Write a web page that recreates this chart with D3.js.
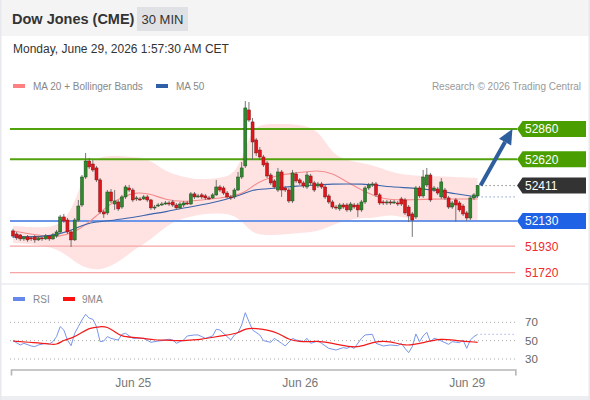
<!DOCTYPE html>
<html>
<head>
<meta charset="utf-8">
<style>
  body { margin: 0; background: #fff; }
  svg text { font-family: "Liberation Sans", Arial, sans-serif; }
</style>
</head>
<body>
<script src="https://d3js.org/d3.v7.min.js"></script>
<script>
// 30 min bars, Jun 24 07:30 -> Jun 29 01:30 CET
var open = [52051,52027,52019,51988,52004,51996,52004,51980,51996,51988,
  52011,51988,52011,52043,52162,52138,52043,51980,52138,52257,
  52479,52606,52582,52551,52456,52202,52194,52360,52265,52281,
  52241,52321,52392,52376,52305,52305,52305,52321,52297,52234,
  52249,52257,52265,52273,52281,52257,52234,52257,52273,52265,
  52345,52321,52337,52329,52313,52313,52337,52400,52392,52352,
  52321,52321,52376,52479,52567,53011,52916,52773,52693,52638,
  52590,52495,52448,52376,52519,52392,52376,52289,52503,52456,
  52432,52400,52487,52432,52408,52424,52400,52329,52281,52241,
  52226,52257,52257,52218,52257,52257,52218,52281,52392,52416,
  52424,52337,52281,52273,52281,52273,52273,52305,52297,52241,
  52186,52162,52392,52329,52416,52495,52376,52384,52321,52376,
  52313,52241,52297,52273,52249,52194,52154,52313,52329];
var high = [52067,52043,52027,52011,52019,52011,52019,52011,52011,52027,
  52019,52035,52059,52178,52186,52154,52059,52154,52297,52495,
  52670,52630,52614,52567,52471,52218,52376,52384,52376,52297,
  52337,52416,52416,52392,52329,52321,52337,52337,52305,52257,
  52273,52281,52289,52289,52297,52273,52281,52289,52289,52360,
  52360,52345,52352,52345,52329,52352,52456,52416,52408,52368,
  52337,52392,52519,52598,53082,53074,52947,52789,52717,52654,
  52606,52511,52463,52551,52535,52408,52392,52535,52519,52471,
  52448,52519,52503,52448,52440,52440,52416,52345,52297,52257,
  52273,52273,52273,52281,52273,52273,52297,52408,52432,52440,
  52440,52352,52297,52297,52297,52297,52289,52321,52313,52257,
  52202,52408,52408,52535,52551,52511,52408,52400,52471,52392,
  52329,52289,52313,52289,52265,52210,52329,52352,52416];
var low = [51996,51980,51972,51972,51964,51972,51956,51972,51972,51980,
  51972,51980,51996,52035,52115,52027,51924,51972,52123,52241,
  52463,52543,52519,52440,52186,52154,52178,52273,52218,52210,
  52226,52305,52360,52281,52289,52289,52297,52281,52218,52218,
  52241,52249,52257,52249,52241,52218,52226,52241,52257,52257,
  52305,52313,52305,52297,52297,52305,52329,52360,52337,52305,
  52297,52305,52368,52463,52551,52916,52614,52646,52614,52559,
  52471,52416,52384,52360,52321,52360,52273,52273,52432,52416,
  52392,52384,52416,52360,52392,52384,52305,52265,52226,52218,
  52210,52226,52202,52202,52226,52162,52202,52265,52376,52400,
  52321,52257,52257,52257,52257,52265,52249,52249,52178,52123,
  52004,52146,52313,52313,52400,52281,52360,52337,52305,52297,
  52226,52226,52123,52202,52170,52130,52138,52297,52313];
var close = [52011,51996,51988,52004,51980,51988,51980,51996,51988,52011,
  51988,52019,52043,52162,52130,52043,51980,52138,52249,52479,
  52606,52559,52535,52456,52202,52186,52360,52289,52289,52226,
  52321,52400,52376,52297,52313,52297,52321,52297,52234,52241,
  52257,52265,52273,52265,52257,52234,52265,52273,52265,52345,
  52321,52329,52321,52313,52305,52337,52400,52376,52352,52321,
  52313,52376,52479,52551,53027,52931,52757,52670,52638,52575,
  52487,52432,52400,52519,52376,52376,52289,52511,52448,52432,
  52408,52495,52432,52376,52424,52400,52321,52281,52241,52234,
  52257,52241,52218,52265,52241,52218,52281,52392,52416,52424,
  52337,52273,52273,52281,52273,52281,52265,52265,52194,52170,
  52138,52392,52329,52479,52495,52297,52392,52352,52440,52313,
  52241,52273,52257,52218,52186,52154,52313,52337,52411];

// moving averages / bands, read at these bar indexes
var maIdx   = [0,8,13,17,20,23,26,30,34,38,42,47,52,57,61,64,66,69,73,78,84,88,92,96,100,104,110,116,122,128];
var bbUpper = [52091,52075,52091,52257,52551,52630,52646,52646,52638,52614,52519,52479,52456,52471,52495,
  52693,52868,52900,52900,52900,52868,52654,52614,52590,52567,52519,52487,52487,52479,52471];
var bbLower = [51956,51940,51900,51805,51758,51742,51758,51821,51916,51980,52091,52154,52186,52194,52178,
  52099,52035,52019,52019,52035,52043,52099,52138,52154,52154,52186,52138,52123,52123,52123];
var ma20    = [52051,52011,52004,52043,52099,52170,52249,52321,52360,52345,52297,52281,52297,52313,52329,
  52360,52408,52456,52495,52511,52535,52511,52440,52376,52321,52297,52297,52305,52305,52305];
var ma50    = [52004,52004,52027,52067,52107,52123,52130,52146,52162,52186,52202,52234,52257,52289,52321,
  52352,52376,52384,52392,52408,52416,52424,52424,52424,52416,52400,52392,52376,52345,52321];

// RSI and its 9 period average
var rsiIdx = [0,2,3,5,6,7,9,10,11,12,13,14,15,16,17,18,19,20,21,22,23,24,25,26,27,28,29,30,31,33,34,36,38,40,41,43,44,45,
  47,48,50,51,52,53,55,56,57,59,60,61,62,63,64,65,66,68,69,71,72,74,75,77,78,79,80,81,82,84,85,87,89,91,92,93,94,96,97,99,
  100,102,104,106,107,108,109,110,111,112,113,114,115,116,117,119,120,121,123,124,125,126,127,128];
var rsi = [50,45.3,47.1,44.2,43.5,45.3,47.1,46.4,48.9,54.4,65.3,61.6,50.7,44.5,58,65.3,72.5,78.7,74.4,73.3,65.3,48.9,49.6,54.4,52.5,51.5,50.7,56.9,58,52.5,52.5,52.5,48.2,49.6,50,51.5,50.7,47.1,
  50.7,55.1,56.2,56.2,54.4,52.5,55.1,62.4,61.6,54.4,50.7,56.2,58.7,67.1,80.5,70.7,61.6,56.2,50,48.2,52.5,47.1,44.2,52.5,50.7,50,48.9,52.5,47.1,49.6,47.1,41.6,39.8,42.4,41.6,43.5,41.6,52.5,56.2,56.9,
  47.1,44.2,45.3,44.5,47.1,41.6,36.9,43.5,57.3,48.9,55.1,59.1,48.9,52.5,51.5,47.8,46,48.9,47.8,50.7,41.6,50.7,54.4,56.9];
var rsiMaIdx = [0,6,10,12,14,16,18,21,24,26,28,30,33,36,39,42,46,49,52,55,59,62,64,67,70,73,76,79,82,85,90,95,99,104,108,113,118,122,128];
var rsiMa = [49.6,47.8,46.4,45.3,50.7,52.5,56.2,64.2,65.3,65.3,59.8,54.4,53.6,52.5,50.7,50.7,49.6,50.7,51.5,53.6,56.2,58,63.5,63.5,61.6,58.7,50.7,48.9,48.9,49.6,45.3,41.6,48.9,50,43.5,47.8,52.5,50,48.2];
var rsiLevels = [70, 50, 30];

var resistances = [52860, 52620];
var pivotLevel = 52130;
var supports = [51930, 51720];
var targetPrice = 52860;
var lastPrice = 52411;

var dayIdx = [33, 79, 125];
var dayLabels = ["Jun 25", "Jun 26", "Jun 29"];

var W = 590, H = 400;
var svg = d3.select("body").append("svg").attr("width", W).attr("height", H);

// card frame
svg.append("rect").attr("width", W).attr("height", H).attr("fill", "#fff");
svg.append("rect").attr("width", W).attr("height", 36).attr("fill", "#f4f4f5");
svg.append("rect").attr("x", 0).attr("y", 283).attr("width", W).attr("height", 2).attr("fill", "#eef0f3");
svg.append("rect").attr("x", 0).attr("y", 396).attr("width", W).attr("height", 4).attr("fill", "#eceef1");
svg.append("rect").attr("x", 0).attr("y", 0).attr("width", 1.5).attr("height", H).attr("fill", "#e8e9ec");
svg.append("rect").attr("x", 588.5).attr("y", 0).attr("width", 1.5).attr("height", H).attr("fill", "#e8e9ec");

// header
svg.append("text").attr("x", 12).attr("y", 24).attr("font-size", 14.5).attr("font-weight", "bold")
  .attr("fill", "#333").text("Dow Jones (CME)");
svg.append("rect").attr("x", 137).attr("y", 7).attr("width", 51).attr("height", 24).attr("fill", "#dfe1e5");
svg.append("text").attr("x", 162.5).attr("y", 24).attr("font-size", 13).attr("text-anchor", "middle")
  .attr("fill", "#333").text("30 MIN");
svg.append("text").attr("x", 13).attr("y", 53).attr("font-size", 12).attr("fill", "#333")
  .text("Monday, June 29, 2026 1:57:30 AM CET");

// legend
svg.append("rect").attr("x", 13).attr("y", 84).attr("width", 12).attr("height", 4).attr("fill", "#ff8080");
svg.append("text").attr("x", 33).attr("y", 90).attr("font-size", 10).attr("fill", "#888").text("MA 20 + Bollinger Bands");
svg.append("rect").attr("x", 156).attr("y", 84).attr("width", 12).attr("height", 4).attr("fill", "#2f5fa6");
svg.append("text").attr("x", 176).attr("y", 90).attr("font-size", 10).attr("fill", "#888").text("MA 50");
svg.append("text").attr("x", 581).attr("y", 90).attr("font-size", 10).attr("fill", "#999")
  .attr("text-anchor", "end").text("Research \u00a9 2026 Trading Central");

var n = close.length;
var x = d3.scaleLinear().domain([0, n - 1]).range([13, 477.6]);
var y = d3.scaleLinear().domain([51640, 53130]).range([282.75, 94.97]);
var yR = d3.scaleLinear().domain([30, 70]).range([359, 322.3]);
var lineLeft = 10, lineRight = 517;

// bollinger band
var band = d3.area()
  .x(function (d, i) { return x(maIdx[i]); })
  .y0(function (d, i) { return y(bbLower[i]); })
  .y1(function (d) { return y(d); })
  .curve(d3.curveBasis);
svg.append("path").datum(bbUpper).attr("d", band).attr("fill", "#ffe3e3");

// level lines
resistances.forEach(function (v) {
  svg.append("line").attr("x1", lineLeft).attr("x2", lineRight).attr("y1", y(v)).attr("y2", y(v))
    .attr("stroke", "#52a20e").attr("stroke-width", 2);
});
svg.append("line").attr("x1", lineLeft).attr("x2", lineRight).attr("y1", y(pivotLevel)).attr("y2", y(pivotLevel))
  .attr("stroke", "#6e96e8").attr("stroke-width", 2);
supports.forEach(function (v) {
  svg.append("line").attr("x1", lineLeft).attr("x2", 515).attr("y1", y(v)).attr("y2", y(v))
    .attr("stroke", "#f5a5a5").attr("stroke-width", 1.3);
});

// moving averages
var maLine = function (vals) {
  return d3.line()
    .x(function (d, i) { return x(maIdx[i]); })
    .y(function (d) { return y(d); })
    .curve(d3.curveBasis)(vals);
};
svg.append("path").attr("d", maLine(ma20)).attr("fill", "none").attr("stroke", "#f48c8c").attr("stroke-width", 1.1);
svg.append("path").attr("d", maLine(ma50)).attr("fill", "none").attr("stroke", "#3c64aa").attr("stroke-width", 1.1);

// candles
var bars = d3.range(n).map(function (i) {
  return { i: i, o: open[i], h: high[i], l: low[i], c: close[i] };
});
var cg = svg.append("g");
cg.selectAll(".wick").data(bars).enter().append("line")
  .attr("x1", function (d) { return x(d.i); }).attr("x2", function (d) { return x(d.i); })
  .attr("y1", function (d) { return y(d.h); }).attr("y2", function (d) { return y(d.l); })
  .attr("stroke", "#666").attr("stroke-width", 0.9);
cg.selectAll(".body").data(bars).enter().append("rect")
  .attr("x", function (d) { return x(d.i) - 1.5; })
  .attr("width", 3)
  .attr("y", function (d) { return y(Math.max(d.o, d.c)); })
  .attr("height", function (d) { return Math.max(1, Math.abs(y(d.o) - y(d.c))); })
  .attr("fill", function (d) { return d.c >= d.o ? "#2f8a2f" : "#e3141c"; })
  .attr("stroke", function (d) { return d.c >= d.o ? "#1d4d1d" : "#7a1414"; })
  .attr("stroke-width", 0.5);

// dotted extensions
var lastX = x(n - 1);
svg.append("line").attr("x1", lastX + 4).attr("x2", 515).attr("y1", y(lastPrice)).attr("y2", y(lastPrice))
  .attr("stroke", "#555").attr("stroke-width", 1).attr("stroke-dasharray", "1,3");
svg.append("line").attr("x1", lastX + 4).attr("x2", 515).attr("y1", y(ma50[ma50.length - 1])).attr("y2", y(ma50[ma50.length - 1]))
  .attr("stroke", "#4c6fb0").attr("stroke-width", 1).attr("stroke-dasharray", "1,3");

// target arrow
var ax0 = lastX + 3, ay0 = y(lastPrice), ax1 = x(n - 1 + 9.6), ay1 = y(targetPrice);
var ang = Math.atan2(ay1 - ay0, ax1 - ax0);
var headLen = 15, headW = 7;
var bx = ax1 - headLen * Math.cos(ang), by = ay1 - headLen * Math.sin(ang);
svg.append("line").attr("x1", ax0).attr("y1", ay0).attr("x2", bx).attr("y2", by)
  .attr("stroke", "#2e5e9e").attr("stroke-width", 4);
svg.append("path").attr("fill", "#2e5e9e").attr("d",
  "M" + ax1 + "," + ay1 +
  "L" + (bx + headW * Math.sin(ang)) + "," + (by - headW * Math.cos(ang)) +
  "L" + (bx - headW * Math.sin(ang)) + "," + (by + headW * Math.cos(ang)) + "Z");

// price tags
var tags = [
  { v: resistances[0], fill: "#4a9e00" },
  { v: resistances[1], fill: "#4a9e00" },
  { v: lastPrice, fill: "#333333" },
  { v: pivotLevel, fill: "#1f62e6" }
];
tags.forEach(function (t) {
  var cy = y(t.v);
  svg.append("path").attr("fill", t.fill)
    .attr("d", "M517," + cy + "L522.5," + (cy - 8) + "L586," + (cy - 8) + "L586," + (cy + 8) + "L522.5," + (cy + 8) + "Z");
  svg.append("text").attr("x", 525).attr("y", cy + 4.3).attr("font-size", 12).attr("fill", "#fff")
    .text(d3.format("d")(t.v));
});
supports.forEach(function (v) {
  svg.append("text").attr("x", 525).attr("y", y(v) + 4.3).attr("font-size", 12).attr("fill", "#ee2b2b")
    .text(d3.format("d")(v));
});

// RSI panel
svg.append("rect").attr("x", 13).attr("y", 297).attr("width", 12).attr("height", 4).attr("fill", "#6688e8");
svg.append("text").attr("x", 33).attr("y", 303).attr("font-size", 10).attr("fill", "#888").text("RSI");
svg.append("rect").attr("x", 63).attr("y", 297).attr("width", 12).attr("height", 4).attr("fill", "#ff1010");
svg.append("text").attr("x", 82).attr("y", 303).attr("font-size", 10).attr("fill", "#888").text("9MA");

rsiLevels.forEach(function (v) {
  svg.append("line").attr("x1", lineLeft).attr("x2", 516).attr("y1", yR(v)).attr("y2", yR(v))
    .attr("stroke", "#aaa").attr("stroke-width", 1).attr("stroke-dasharray", "1,3");
  svg.append("text").attr("x", 525).attr("y", yR(v) + 4).attr("font-size", 11.5).attr("fill", "#666").text(v);
});

var rsiLine = d3.line()
  .x(function (d, i) { return x(rsiIdx[i]); })
  .y(function (d) { return yR(d); });
svg.append("path").datum(rsi).attr("d", rsiLine).attr("fill", "none")
  .attr("stroke", "#7896ea").attr("stroke-width", 1);
var rsiMaLine = d3.line()
  .x(function (d, i) { return x(rsiMaIdx[i]); })
  .y(function (d) { return yR(d); })
  .curve(d3.curveBasis);
svg.append("path").datum(rsiMa).attr("d", rsiMaLine).attr("fill", "none")
  .attr("stroke", "#f21a1a").attr("stroke-width", 1.2);
svg.append("line").attr("x1", lastX + 3).attr("x2", 515)
  .attr("y1", yR(rsi[rsi.length - 1])).attr("y2", yR(rsi[rsi.length - 1]))
  .attr("stroke", "#7896ea").attr("stroke-width", 1).attr("stroke-dasharray", "1,3");

// time axis
var xAxisScale = x.copy().domain([-0.55, 138.4]).range([x(-0.55), x(138.4)]);
var xAxis = d3.axisBottom(xAxisScale)
  .tickValues(dayIdx)
  .tickFormat(function (d, i) { return dayLabels[i]; })
  .tickSizeInner(0).tickSizeOuter(6).tickPadding(9);
var axG = svg.append("g").attr("transform", "translate(0,369.5)").call(xAxis);
axG.select(".domain").attr("stroke", "#b5b5b5").attr("stroke-width", 1.6);
axG.selectAll("text").attr("font-size", 12).attr("fill", "#777")
  .attr("font-family", "Liberation Sans, Arial, sans-serif");
</script>
</body>
</html>
